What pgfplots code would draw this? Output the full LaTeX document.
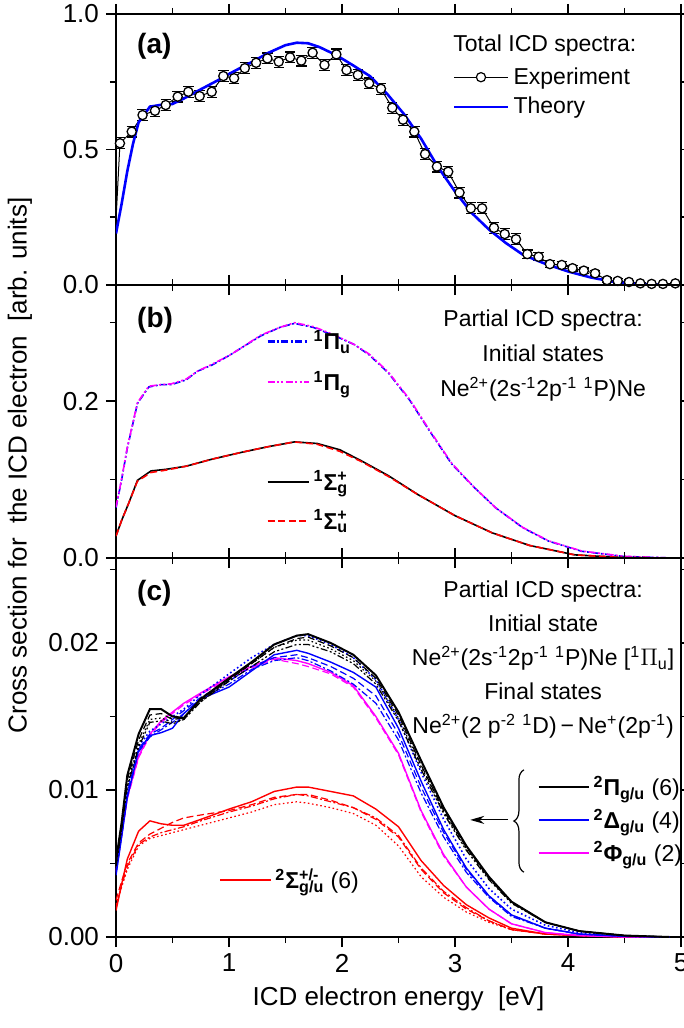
\documentclass[border=0pt]{standalone}
\usepackage{fontspec}
\setmainfont{Liberation Sans}
\usepackage{pgfplots}
\pgfplotsset{compat=1.18}
\usepackage{pgfplotstable}
\usetikzlibrary{calc,decorations.pathreplacing,arrows.meta}

% panel (a): experiment
\pgfplotstableread{
E v err
0.035 0.523 0.02
0.139 0.566 0.02
0.235 0.627 0.02
0.345 0.643 0.02
0.44 0.664 0.02
0.546 0.695 0.02
0.64 0.713 0.02
0.74 0.697 0.02
0.847 0.713 0.02
0.95 0.771 0.02
1.045 0.763 0.02
1.14 0.800 0.02
1.24 0.820 0.02
1.34 0.836 0.02
1.44 0.824 0.02
1.54 0.840 0.02
1.64 0.828 0.02
1.74 0.857 0.02
1.845 0.812 0.02
1.95 0.851 0.02
2.04 0.793 0.02
2.14 0.775 0.02
2.24 0.744 0.02
2.345 0.724 0.02
2.445 0.654 0.02
2.54 0.610 0.02
2.64 0.566 0.02
2.735 0.483 0.02
2.84 0.437 0.02
2.94 0.418 0.02
3.04 0.341 0.02
3.14 0.283 0.02
3.24 0.283 0.02
3.345 0.211 0.02
3.44 0.188 0.02
3.54 0.169 0.02
3.64 0.114 0.015
3.74 0.104 0.015
3.84 0.077 0.012
3.945 0.074 0.012
4.04 0.062 0.01
4.14 0.053 0.01
4.24 0.043 0.01
4.345 0.018 0.008
4.44 0.015 0.008
4.54 0.011 0.006
4.64 0.006 0.004
4.74 0.004 0.003
4.84 0.004 0.003
4.95 0.006 0.003
}\expdata

% panel (a): theory
\pgfplotstableread{
E v
0.0 0.19
0.05 0.30
0.10 0.42
0.15 0.52
0.20 0.60
0.30 0.658
0.40 0.665
0.50 0.668
0.60 0.688
0.75 0.722
0.90 0.755
1.05 0.79
1.20 0.822
1.35 0.857
1.50 0.885
1.60 0.894
1.70 0.892
1.80 0.878
1.95 0.848
2.10 0.81
2.25 0.77
2.40 0.705
2.55 0.63
2.70 0.54
2.85 0.435
3.00 0.345
3.15 0.265
3.30 0.205
3.45 0.155
3.60 0.112
3.80 0.078
4.00 0.050
4.20 0.028
4.40 0.012
4.60 0.004
4.87 0.0
}\theory

% panel (b): Pi states
\pgfplotstableread{
E pu pg
0 0.064 0.065
0.05 0.100 0.101
0.10 0.140 0.141
0.19 0.197 0.198
0.29 0.218 0.219
0.40 0.221 0.221
0.49 0.221 0.222
0.62 0.227 0.228
0.72 0.238 0.238
0.85 0.246 0.247
1.00 0.258 0.258
1.10 0.267 0.267
1.28 0.283 0.284
1.45 0.294 0.294
1.58 0.299 0.300
1.745 0.294 0.295
1.94 0.283 0.284
2.11 0.272 0.272
2.24 0.259 0.260
2.41 0.236 0.237
2.60 0.201 0.202
2.77 0.163 0.164
2.97 0.120 0.121
3.17 0.090 0.090
3.36 0.064 0.064
3.60 0.0386 0.0390
3.83 0.0214 0.0218
4.12 0.0086 0.0090
4.49 0.002 0.0022
4.92 0.0 0.0
}\pistates

% panel (b): Sigma states
\pgfplotstableread{
E sg su
0 0.028 0.028
0.05 0.048 0.048
0.11 0.069 0.069
0.19 0.099 0.098
0.31 0.111 0.109
0.44 0.113 0.112
0.62 0.117 0.117
0.85 0.126 0.126
1.12 0.135 0.135
1.35 0.142 0.142
1.58 0.148 0.148
1.78 0.146 0.145
1.98 0.138 0.136
2.17 0.124 0.123
2.41 0.105 0.104
2.67 0.081 0.081
3.00 0.054 0.054
3.33 0.032 0.032
3.66 0.016 0.016
4.06 0.004 0.004
4.49 0.0005 0.0005
4.92 0.0 0.0
}\sigmastates

% panel (c): final states
\pgfplotstableread{
E Bs Bd Bo Bdd Ls Ld Lo Ldd Ms Md Rs Rd Ro Rdd
0.00 .0052 .0050 .0049 .0048 .0042 .0044 .0046 .0043 .0045 .0044 .0018 .0025 .0022 .0020
0.05 .0078 .0076 .0074 .0073 .0068 .0070 .0072 .0069 .0070 .0069 .0036 .0038 .0034 .0035
0.10 .0110 .0107 .0104 .0102 .0095 .0098 .0101 .0096 .0095 .0094 .0053 .0050 .0046 .0048
0.20 .0138 .0134 .0131 .0129 .0127 .0128 .0130 .0126 .0123 .0122 .0072 .0064 .0062 .0063
0.30 .0155 .0151 .0148 .0146 .0137 .0138 .0140 .0136 .0138 .0137 .0079 .0070 .0067 .0068
0.40 .0155 .0152 .0149 .0147 .0139 .0142 .0145 .0141 .0147 .0146 .0077 .0074 .0069 .0071
0.50 .0150 .0148 .0146 .0145 .0142 .0148 .0150 .0146 .0153 .0152 .0076 .0078 .0071 .0073
0.60 .0149 .0149 .0148 .0148 .0152 .0154 .0155 .0152 .0159 .0158 .0076 .0081 .0073 .0075
0.75 .0162 .0161 .0160 .0160 .0162 .0163 .0165 .0162 .0166 .0165 .0080 .0083 .0076 .0079
1.00 .0176 .0175 .0175 .0174 .0170 .0174 .0179 .0172 .0177 .0176 .0087 .0086 .0081 .0085
1.20 .0187 .0186 .0186 .0184 .0181 .0184 .0190 .0182 .0184 .0183 .0092 .0090 .0085 .0089
1.40 .0199 .0197 .0197 .0194 .0192 .0190 .0199 .0188 .0190 .0189 .0099 .0095 .0090 .0094
1.60 .0205 .0203 .0202 .0199 .0195 .0192 .0205 .0190 .0188 .0186 .0102 .0097 .0092 .0097
1.70 .0206 .0204 .0202 .0199 .0193 .0190 .0205 .0188 .0186 .0184 .0102 .0097 .0091 .0096
1.90 .0200 .0198 .0196 .0194 .0187 .0184 .0199 .0181 .0180 .0179 .0099 .0093 .0088 .0092
2.10 .0192 .0190 .0188 .0186 .0180 .0176 .0190 .0172 .0171 .0170 .0096 .0088 .0084 .0088
2.30 .0178 .0176 .0174 .0172 .0170 .0164 .0175 .0159 .0150 .0149 .0087 .0080 .0076 .0081
2.50 .0153 .0151 .0149 .0147 .0142 .0138 .0148 .0134 .0125 .0124 .0075 .0068 .0062 .0069
2.70 .0120 .0117 .0116 .0114 .0106 .0102 .0112 .0098 .0086 .0085 .0052 .0046 .0041 .0047
2.90 .0088 .0086 .0085 .0084 .0073 .0071 .0080 .0068 .0056 .0055 .0035 .0030 .0027 .0031
3.10 .0062 .0061 .0060 .0059 .0047 .0046 .0053 .0044 .0034 .0034 .0022 .0019 .0017 .0020
3.30 .0041 .0040 .0040 .0039 .0028 .0028 .0033 .0027 .0019 .0019 .0013 .0011 .0010 .0011
3.50 .0024 .0024 .0023 .0023 .0015 .0015 .0019 .0014 .0009 .0009 .0006 .0005 .0005 .0005
3.80 .0010 .0010 .0010 .0010 .0006 .0006 .0008 .0006 .0003 .0003 .0002 .0002 .0002 .0002
4.10 .0004 .0004 .0004 .0004 .0002 .0002 .0003 .0002 .0001 .0001 .0001 .0001 .0001 .0001
4.50 .0001 .0001 .0001 .0001 .00005 .00005 .00005 .00005 0 0 0 0 0 0
4.90 0 0 0 0 0 0 0 0 0 0 0 0 0 0
}\finalstates

\definecolor{mag}{RGB}{255,0,255}

\tikzset{
  dashdot/.style={dash pattern=on 3.5pt off 1.2pt on 1pt off 1.2pt},
  dashdotdot/.style={dash pattern=on 3.5pt off 1.2pt on 1pt off 1.2pt on 1pt off 1.2pt},
  mydash/.style={dash pattern=on 3.5pt off 1.8pt},
  mydot/.style={dash pattern=on 0.8pt off 1.3pt},
}

\pgfplotsset{
  panel/.style={
    scale only axis, width=282.5pt,
    xmin=0, xmax=5,
    xtick={0,1,...,5}, minor xtick={0.5,1.5,...,4.5},
    tick align=outside,
    major tick length=5pt, minor tick length=3pt,
    every tick/.style={black, line width=0.8pt},
    axis line style={line width=1pt},
    tick label style={font=\fontsize{13}{15}\selectfont},
    /pgf/number format/assume math mode=true,
    scaled y ticks=false,
  },
  % hidden axis that only carries a legend
  legaxis/.style={
    scale only axis, width=282.5pt, hide axis,
    xmin=0, xmax=1, ymin=0, ymax=1,
    legend cell align=left,
    legend style={draw=none, fill=none, anchor=west,
      font=\fontsize{11.5}{14}\selectfont},
  },
}

\begin{document}
\begin{tikzpicture}
% ---------------- (a)
\begin{axis}[panel, name=a, height=135.5pt,
  ymin=0, ymax=1, ytick={0,0.5,1}, minor ytick={0.25,0.75},
  xticklabels={},
  yticklabel style={/pgf/number format/.cd, fixed, fixed zerofill, precision=1},
]
\addplot[black, line width=0.5pt] coordinates {(0.0,0.24) (0.035,0.523)};
\addplot[black, line width=0.5pt] table[x=E,y=v] {\expdata};
\addplot[draw=none,
  error bars/.cd, y dir=both, y explicit, error mark=|,
  error bar style={draw=black, solid, line width=0.6pt},
  error mark options={draw=black, mark size=2.6pt, line width=0.6pt}]
  table[x=E, y=v, y error=err] {\expdata};
\addplot[black, only marks, mark=*, mark size=2.3pt,
  mark options={fill=white, draw=black, line width=0.65pt}]
  table[x=E, y=v] {\expdata};
\addplot[blue, line width=1.3pt] table[x=E,y=v] {\theory};
\node[anchor=west, font=\bfseries\fontsize{14}{16}\selectfont] at (rel axis cs:0.025,0.882) {(a)};
\node[font=\fontsize{11.5}{14}\selectfont] at (rel axis cs:0.759,0.882) {Total ICD spectra:};
\end{axis}
\begin{axis}[legaxis, at={(a.south west)}, anchor=south west, height=135.5pt,
  legend style={at={(0.585,0.712)}, row sep=1pt},
  legend image code/.code={\draw[mark repeat=2,mark phase=2,#1] plot coordinates {(0cm,0cm) (0.47cm,0cm) (0.95cm,0cm)};},
]
\addlegendimage{black, line width=0.5pt, mark=*, mark size=2.3pt, mark options={fill=white, draw=black, line width=0.6pt}}
\addlegendentry{Experiment}
\addlegendimage{blue, line width=1.3pt}
\addlegendentry{Theory}
\end{axis}

% ---------------- (b)
\begin{axis}[panel, name=b, at={(a.south west)}, anchor=north west, height=136.5pt,
  ymin=0, ymax=0.348, ytick={0,0.2}, minor ytick={0.1,0.3},
  xticklabels={},
  yticklabel style={/pgf/number format/.cd, fixed, fixed zerofill, precision=1},
]
\addplot[blue, line width=0.8pt, dashdot] table[x=E,y=pu] {\pistates};
\addplot[mag, line width=0.8pt, dashdotdot] table[x=E,y=pg] {\pistates};
\addplot[black, line width=0.8pt] table[x=E,y=sg] {\sigmastates};
\addplot[red, line width=0.8pt, mydash] table[x=E,y=su] {\sigmastates};
\node[anchor=west, font=\bfseries\fontsize{14}{16}\selectfont] at (rel axis cs:0.025,0.872) {(b)};
\node[align=center, font=\fontsize{11.5}{17.5}\selectfont] at (rel axis cs:0.756,0.74)
  {Partial ICD spectra:\\Initial states\\Ne\textsuperscript{2+}(2s\textsuperscript{-1}2p\textsuperscript{-1} \textsuperscript{1}P)Ne};
\end{axis}
\begin{axis}[legaxis, at={(b.south west)}, anchor=south west, height=136.5pt,
  legend style={at={(0.255,0.718)}, row sep=5pt},
  legend image code/.code={\draw[#1] (0cm,0cm) -- (0.72cm,0cm);},
]
\addlegendimage{blue, line width=1.1pt, dashdot}
\addlegendentry{\textbf{\textsuperscript{1}Π\textsubscript{u}}}
\addlegendimage{mag, line width=1.1pt, dashdotdot}
\addlegendentry{\textbf{\textsuperscript{1}Π\textsubscript{g}}}
\end{axis}
\begin{axis}[legaxis, at={(b.south west)}, anchor=south west, height=136.5pt,
  legend style={at={(0.255,0.208)}, row sep=4pt},
  legend image code/.code={\draw[#1] (0cm,0cm) -- (0.72cm,0cm);},
]
\addlegendimage{black, line width=1.1pt}
\addlegendentry{\textbf{\textsuperscript{1}Σ\rlap{\textsuperscript{+}}\textsubscript{g}}}
\addlegendimage{red, line width=1.1pt, mydash}
\addlegendentry{\textbf{\textsuperscript{1}Σ\rlap{\textsuperscript{+}}\textsubscript{u}}}
\end{axis}

% ---------------- (c)
\begin{axis}[panel, name=c, at={(b.south west)}, anchor=north west, height=189.5pt,
  ymin=0, ymax=0.02578, ytick={0,0.01,0.02}, minor ytick={0.005,0.015,0.025},
  yticklabel style={/pgf/number format/.cd, fixed, fixed zerofill, precision=2},
  xlabel={ICD electron energy~~[eV]},
  xlabel style={font=\fontsize{13}{15}\selectfont},
]
\addplot[red, line width=0.6pt, mydot] table[x=E,y=Ro] {\finalstates};
\addplot[red, line width=0.6pt, dashdot] table[x=E,y=Rdd] {\finalstates};
\addplot[red, line width=0.6pt, mydash] table[x=E,y=Rd] {\finalstates};
\addplot[red, line width=0.7pt] table[x=E,y=Rs] {\finalstates};
\addplot[mag, line width=0.6pt, mydash] table[x=E,y=Md] {\finalstates};
\addplot[mag, line width=0.7pt] table[x=E,y=Ms] {\finalstates};
\addplot[blue, line width=0.6pt, dashdot] table[x=E,y=Ldd] {\finalstates};
\addplot[blue, line width=0.6pt, mydash] table[x=E,y=Ld] {\finalstates};
\addplot[blue, line width=0.7pt] table[x=E,y=Ls] {\finalstates};
\addplot[blue, line width=0.8pt, mydot] table[x=E,y=Lo] {\finalstates};
\addplot[black, line width=0.6pt, dashdotdot] table[x=E,y=Bdd] {\finalstates};
\addplot[black, line width=0.6pt, mydot] table[x=E,y=Bo] {\finalstates};
\addplot[black, line width=0.6pt, mydash] table[x=E,y=Bd] {\finalstates};
\addplot[black, line width=1pt] table[x=E,y=Bs] {\finalstates};
\node[anchor=west, font=\bfseries\fontsize{14}{16}\selectfont] at (rel axis cs:0.025,0.908) {(c)};
\node[align=center, font=\fontsize{11.5}{17}\selectfont] at (rel axis cs:0.756,0.731)
  {Partial ICD spectra:\\Initial state\\Ne\textsuperscript{2+}(2s\textsuperscript{-1}2p\textsuperscript{-1} \textsuperscript{1}P)Ne [\textsuperscript{1}$\Pi$\textsubscript{u}]\\Final states\\Ne\textsuperscript{2+}(2 p\textsuperscript{-2} \textsuperscript{1}D)\,−\,Ne\textsuperscript{+}(2p\textsuperscript{-1})};
\draw[decorate, decoration={brace, amplitude=5pt}, line width=0.6pt]
  (rel axis cs:0.722,0.171) -- (rel axis cs:0.722,0.441);
\draw[-{Stealth[length=7pt,width=4pt]}, line width=0.6pt]
  (rel axis cs:0.694,0.309) -- (rel axis cs:0.627,0.309);
\end{axis}
\begin{axis}[legaxis, at={(c.south west)}, anchor=south west, height=189.5pt,
  legend style={at={(0.735,0.308)}, row sep=1pt},
  legend image code/.code={\draw[#1] (0cm,0cm) -- (0.88cm,0cm);},
]
\addlegendimage{black, line width=0.9pt}
\addlegendentry{\textbf{\textsuperscript{2}Π\textsubscript{g/u}} (6)}
\addlegendimage{blue, line width=0.9pt}
\addlegendentry{\textbf{\textsuperscript{2}Δ\textsubscript{g/u}} (4)}
\addlegendimage{mag, line width=0.9pt}
\addlegendentry{\textbf{\textsuperscript{2}Φ\textsubscript{g/u}} (2)}
\end{axis}
\begin{axis}[legaxis, at={(c.south west)}, anchor=south west, height=189.5pt,
  legend style={at={(0.172,0.150)}},
  legend image code/.code={\draw[#1] (0cm,0cm) -- (0.88cm,0cm);},
]
\addlegendimage{red, line width=0.9pt}
\addlegendentry{\textbf{\textsuperscript{2}Σ\rlap{\textsuperscript{+/-}}\textsubscript{g/u}} (6)}
\end{axis}

\node[rotate=90, font=\fontsize{13}{15}\selectfont]
  at ($(a.north west)!0.5!(c.south west)+(-48pt,5pt)$)
  {Cross section for~~the ICD electron~~[arb. units]};

\pgfresetboundingbox
\path[use as bounding box] ([xshift=-58pt,yshift=7pt]a.north west)
  rectangle ([xshift=1.5pt,yshift=-45.5pt]c.south east);
\end{tikzpicture}
\end{document}
